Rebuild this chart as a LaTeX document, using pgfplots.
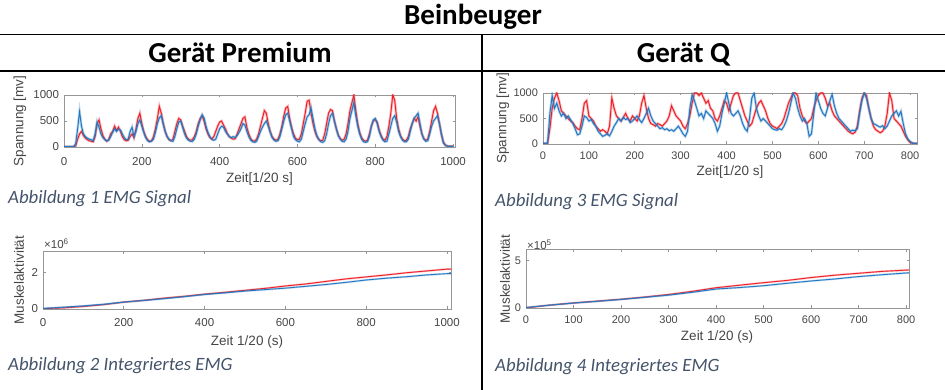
\documentclass[border=0pt]{standalone}
\usepackage{fontspec}
\usepackage{pgfplots}
\pgfplotsset{compat=1.18}
\setmainfont{Carlito}
\newfontfamily\plotfont{Liberation Sans}
\definecolor{axgray}{RGB}{150,150,150}
\definecolor{lblgray}{RGB}{70,70,70}
\definecolor{capblue}{RGB}{68,84,106}
\definecolor{mred}{RGB}{238,32,40}
\definecolor{mblue}{RGB}{35,120,195}
\pgfplotsset{
  mat/.style={scale only axis, anchor=north west,
    axis line style={draw=axgray, line width=0.7pt},
    tick style={draw=axgray, line width=0.6pt},
    tick align=inside, major tick length=2.5pt,
    tick label style={font=\plotfont\fontsize{11.5}{11.5}\selectfont, text=lblgray},
    /pgf/number format/assume math mode=true,
    /pgf/number format/1000 sep={},
    yticklabel style={xshift=-1.5pt},
  },
  sigred/.style={mred, line width=1pt, preaction={draw, mred, opacity=0.3, line width=2.6pt}},
  sigblue/.style={mblue, line width=1pt, preaction={draw, mblue, opacity=0.3, line width=2.6pt}},
  intred/.style={mred, line width=0.9pt, preaction={draw, mred, opacity=0.3, line width=2pt}},
  intblue/.style={mblue, line width=0.9pt, preaction={draw, mblue, opacity=0.3, line width=2pt}},
}
\newcommand{\lblfont}{\plotfont\fontsize{13.5}{13.5}\selectfont}
\newcommand{\hdfont}{\bfseries\fontsize{29}{29}\selectfont}
\newcommand{\capfont}{\itshape\fontsize{18.8}{18.8}\selectfont}
\begin{document}
\begin{tikzpicture}
\path[use as bounding box] (0pt,0pt) rectangle (945pt,-390pt);
% table lines
\draw[black, line width=1.5pt] (0pt,-34.5pt) -- (945pt,-34.5pt);
\draw[black, line width=1.3pt] (0pt,-71pt) -- (945pt,-71pt);
\draw[black, line width=1.8pt] (482pt,-34.5pt) -- (482pt,-390pt);
% headers
\node[anchor=base, font=\hdfont, inner sep=0pt] at (473pt,-25pt) {Beinbeuger};
\node[anchor=base, font=\hdfont, inner sep=0pt] at (240pt,-63pt) {Gerät Premium};
\node[anchor=base, font=\hdfont, inner sep=0pt] at (683.5pt,-63pt) {Gerät Q};
% captions
\node[anchor=base west, font=\capfont, text=capblue, inner sep=0pt] at (8pt,-204pt) {Abbildung 1 EMG Signal};
\node[anchor=base west, font=\capfont, text=capblue, inner sep=0pt] at (8pt,-370pt) {Abbildung 2 Integriertes EMG};
\node[anchor=base west, font=\capfont, text=capblue, inner sep=0pt] at (495pt,-206.5pt) {Abbildung 3 EMG Signal};
\node[anchor=base west, font=\capfont, text=capblue, inner sep=0pt] at (495pt,-371.5pt) {Abbildung 4 Integriertes EMG};
% axis labels
\node[rotate=90, font=\lblfont, text=lblgray, inner sep=0pt] at (20pt,-121pt) {Spannung [mv]};
\node[font=\lblfont, text=lblgray, inner sep=0pt] at (259.5pt,-179pt) {Zeit[1/20 s]};
\node[rotate=90, font=\lblfont, text=lblgray, inner sep=0pt] at (19pt,-280pt) {Muskelaktivität};
\node[font=\lblfont, text=lblgray, inner sep=0pt] at (247pt,-342pt) {Zeit 1/20 (s)};
\node[anchor=west, font=\plotfont\fontsize{11.5}{11.5}\selectfont, text=lblgray, inner sep=0pt] at (44pt,-244pt) {×10\textsuperscript{6}};
\node[rotate=90, font=\lblfont, text=lblgray, inner sep=0pt] at (503pt,-118.5pt) {Spannung [mv]};
\node[font=\lblfont, text=lblgray, inner sep=0pt] at (730pt,-172pt) {Zeit[1/20 s]};
\node[rotate=90, font=\lblfont, text=lblgray, inner sep=0pt] at (505pt,-279pt) {Muskelaktivität};
\node[font=\lblfont, text=lblgray, inner sep=0pt] at (717pt,-337pt) {Zeit 1/20 (s)};
\node[anchor=west, font=\plotfont\fontsize{11.5}{11.5}\selectfont, text=lblgray, inner sep=0pt] at (527pt,-245pt) {×10\textsuperscript{5}};
% ---------- Plot 1 ----------
\begin{axis}[mat, at={(64pt,-95pt)}, width=391pt, height=52pt,
  xmin=0, xmax=1005, ymin=0, ymax=1000,
  xtick={0,200,400,600,800,1000}, ytick={0,500,1000},
  xticklabel style={yshift=-6.5pt}]
\addplot[sigred] coordinates {
(0,5)(5,5)(10,5)(15,5)(20,5)(25,5)(30,20)(35,150)(40,250)(45,300)(50,220)(55,170)(60,140)(65,120)(70,110)(75,100)
(80,200)(85,450)(90,520)(95,350)(100,220)(105,150)(110,110)(115,150)(120,250)(125,300)(130,400)(135,320)(140,380)(145,300)
(150,200)(155,140)(160,120)(165,130)(170,200)(175,250)(180,180)(185,350)(190,550)(195,650)(200,450)(205,300)(210,200)(215,140)
(220,110)(225,120)(230,200)(235,350)(240,550)(245,780)(250,650)(255,450)(260,300)(265,200)(270,140)(275,120)(280,150)(285,300)
(290,450)(295,550)(300,520)(305,400)(310,300)(315,200)(320,150)(325,130)(330,140)(335,200)(340,300)(345,450)(350,550)(355,600)
(360,500)(365,350)(370,250)(375,180)(380,150)(385,200)(390,300)(395,400)(400,480)(405,500)(410,420)(415,350)(420,250)(425,200)
(430,170)(435,150)(440,160)(445,250)(450,350)(455,450)(460,550)(465,580)(470,380)(475,250)(480,160)(485,120)(490,110)(495,150)
(500,250)(505,400)(510,550)(515,700)(520,650)(525,450)(530,300)(535,200)(540,150)(545,130)(550,150)(555,250)(560,400)(565,600)
(570,750)(575,780)(580,550)(585,380)(590,250)(595,170)(600,140)(605,150)(610,250)(615,450)(620,650)(625,880)(630,900)(635,650)
(640,450)(645,300)(650,200)(655,140)(660,120)(665,130)(670,250)(675,450)(680,650)(685,720)(690,700)(695,500)(700,350)(705,230)
(710,160)(715,130)(720,150)(725,250)(730,450)(735,700)(740,850)(745,1000)(750,700)(755,450)(760,280)(765,180)(770,130)(775,110)
(780,130)(785,250)(790,400)(795,500)(800,530)(805,480)(810,330)(815,220)(820,150)(825,130)(830,200)(835,400)(840,650)(845,1000)
(850,900)(855,550)(860,350)(865,220)(870,150)(875,120)(880,130)(885,200)(890,350)(895,450)(900,550)(905,500)(910,580)(915,400)
(920,250)(925,160)(930,130)(935,150)(940,300)(945,500)(950,700)(955,780)(960,650)(965,450)(970,250)(975,100)(980,40)(985,20)
(990,15)(995,15)(1000,15)};
\addplot[sigblue] coordinates {
(0,5)(5,5)(10,5)(15,5)(20,5)(25,10)(30,60)(35,350)(40,680)(45,400)(50,250)(55,200)(60,170)(65,150)(70,140)(75,120)
(80,250)(85,480)(90,380)(95,250)(100,180)(105,140)(110,120)(115,130)(120,200)(125,280)(130,350)(135,300)(140,340)(145,330)
(150,250)(155,180)(160,140)(165,150)(170,300)(175,380)(180,200)(185,300)(190,450)(195,520)(200,400)(205,280)(210,180)(215,120)
(220,100)(225,110)(230,150)(235,280)(240,450)(245,560)(250,600)(255,450)(260,300)(265,200)(270,150)(275,120)(280,110)(285,200)
(290,350)(295,480)(300,500)(305,380)(310,250)(315,170)(320,130)(325,110)(330,110)(335,150)(340,250)(345,400)(350,520)(355,620)
(360,560)(365,400)(370,280)(375,200)(380,150)(385,130)(390,150)(395,250)(400,350)(405,400)(410,380)(415,300)(420,250)(425,200)
(430,180)(435,200)(440,180)(445,220)(450,280)(455,350)(460,450)(465,420)(470,300)(475,200)(480,130)(485,100)(490,90)(495,110)
(500,200)(505,300)(510,380)(515,450)(520,500)(525,400)(530,280)(535,180)(540,130)(545,110)(550,120)(555,200)(560,350)(565,500)
(570,620)(575,650)(580,500)(585,350)(590,200)(595,140)(600,110)(605,100)(610,150)(615,300)(620,450)(625,580)(630,620)(635,750)
(640,550)(645,350)(650,220)(655,150)(660,100)(665,90)(670,120)(675,250)(680,450)(685,600)(690,650)(695,500)(700,350)(705,220)
(710,150)(715,110)(720,100)(725,150)(730,300)(735,550)(740,700)(745,850)(750,600)(755,400)(760,250)(765,150)(770,100)(775,90)
(780,100)(785,200)(790,400)(795,520)(800,550)(805,450)(810,300)(815,200)(820,130)(825,100)(830,110)(835,250)(840,400)(845,550)
(850,600)(855,480)(860,300)(865,200)(870,130)(875,100)(880,100)(885,150)(890,300)(895,450)(900,550)(905,600)(910,650)(915,450)
(920,250)(925,150)(930,110)(935,120)(940,250)(945,400)(950,500)(955,550)(960,600)(965,450)(970,250)(975,80)(980,30)(985,15)
(990,10)(995,10)(1000,10)};
\end{axis}
% ---------- Plot 2 ----------
\begin{axis}[mat, at={(43pt,-251pt)}, width=408pt, height=58pt,
  xmin=0, xmax=1010, ymin=0, ymax=3.2,
  xtick={0,200,400,600,800,1000}, ytick={0,2},
  xticklabel style={yshift=-5.5pt}]
\addplot[intred] coordinates {
(0,0.02)(50,0.06)(100,0.14)(150,0.24)(200,0.38)(250,0.48)(300,0.6)(350,0.7)(400,0.82)(450,0.92)(500,1.03)
(550,1.14)(600,1.27)(650,1.38)(700,1.52)(750,1.66)(800,1.77)(850,1.88)(900,2.0)(950,2.1)(1000,2.2)(1010,2.2)};
\addplot[intblue] coordinates {
(0,0.03)(50,0.1)(100,0.17)(150,0.26)(200,0.38)(250,0.47)(300,0.57)(350,0.68)(400,0.8)(450,0.89)(500,0.99)
(550,1.07)(600,1.15)(650,1.25)(700,1.35)(750,1.47)(800,1.6)(850,1.7)(900,1.78)(950,1.88)(1000,1.95)(1010,1.95)};
\end{axis}
% ---------- Plot 3 ----------
\begin{axis}[mat, at={(543pt,-93pt)}, width=374pt, height=51pt,
  xmin=0, xmax=815, ymin=0, ymax=1000,
  xtick={0,100,...,800}, ytick={0,500,1000},
  tick label style={font=\plotfont\fontsize{11}{11}\selectfont},
  xticklabel style={yshift=-4pt}]
\addplot[sigred] coordinates {
(0,10)(5,10)(10,15)(15,300)(20,700)(25,900)(30,1000)(35,850)(40,650)(45,600)(50,550)(55,500)(60,450)(65,420)(70,350)(75,300)
(80,280)(85,500)(90,800)(95,850)(100,550)(105,500)(110,450)(115,350)(120,300)(125,250)(130,280)(135,250)(140,200)(145,350)
(150,900)(155,700)(160,550)(165,500)(170,450)(175,520)(180,600)(185,500)(190,450)(195,550)(200,500)(205,450)(210,550)(215,800)
(220,950)(225,700)(230,500)(235,400)(240,380)(245,350)(250,400)(255,380)(260,350)(265,400)(270,450)(275,550)(280,750)(285,650)
(290,550)(295,500)(300,450)(305,350)(310,300)(315,400)(320,550)(325,800)(330,1000)(335,1000)(340,950)(345,1000)(350,900)(355,800)
(360,850)(365,700)(370,650)(375,500)(380,450)(385,550)(390,700)(395,850)(400,800)(405,650)(410,800)(415,950)(420,1000)(425,1000)
(430,850)(435,700)(440,550)(445,450)(450,350)(455,400)(460,550)(465,700)(470,800)(475,850)(480,750)(485,650)(490,500)(495,400)
(500,350)(505,330)(510,300)(515,350)(520,400)(525,500)(530,650)(535,800)(540,900)(545,1000)(550,1000)(555,950)(560,700)(565,550)
(570,450)(575,400)(580,450)(585,500)(590,700)(595,850)(600,950)(605,1000)(610,1000)(615,900)(620,750)(625,800)(630,650)(635,550)
(640,500)(645,450)(650,400)(655,350)(660,300)(665,250)(670,220)(675,200)(680,230)(685,350)(690,650)(695,900)(700,1000)(705,950)
(710,700)(715,500)(720,350)(725,280)(730,250)(735,220)(740,250)(745,350)(750,600)(755,1000)(760,850)(765,500)(770,450)(775,400)
(780,350)(785,250)(790,150)(795,80)(800,30)(805,15)(810,10)(815,10)};
\addplot[sigblue] coordinates {
(0,10)(5,10)(10,20)(15,600)(20,950)(25,700)(30,800)(35,650)(40,550)(45,600)(50,500)(55,550)(60,480)(65,400)(70,300)(75,180)
(80,200)(85,350)(90,550)(95,520)(100,450)(105,480)(110,400)(115,350)(120,250)(125,200)(130,150)(135,170)(140,200)(145,160)
(150,250)(155,350)(160,420)(165,500)(170,450)(175,520)(180,480)(185,500)(190,420)(195,450)(200,500)(205,550)(210,480)(215,420)
(220,500)(225,600)(230,700)(235,550)(240,450)(245,400)(250,350)(255,300)(260,320)(265,280)(270,300)(275,260)(280,280)(285,250)
(290,300)(295,350)(300,280)(305,200)(310,150)(315,250)(320,700)(325,970)(330,850)(335,700)(340,550)(345,600)(350,500)(355,650)
(360,600)(365,550)(370,500)(375,400)(380,250)(385,350)(390,600)(395,800)(400,1000)(405,800)(410,600)(415,550)(420,600)(425,650)
(430,550)(435,400)(440,300)(445,250)(450,500)(455,900)(460,1000)(465,700)(470,550)(475,450)(480,500)(485,450)(490,400)(495,350)
(500,300)(505,280)(510,270)(515,300)(520,280)(525,350)(530,450)(535,600)(540,800)(545,1000)(550,900)(555,700)(560,550)(565,450)
(570,500)(575,400)(580,150)(585,200)(590,600)(595,1000)(600,850)(605,700)(610,600)(615,550)(620,700)(625,850)(630,970)(635,750)
(640,600)(645,500)(650,450)(655,400)(660,350)(665,300)(670,250)(675,270)(680,260)(685,300)(690,600)(695,850)(700,1000)(705,900)
(710,700)(715,500)(720,400)(725,380)(730,350)(735,330)(740,360)(745,300)(750,350)(755,450)(760,550)(765,600)(770,650)(775,550)
(780,640)(785,400)(790,200)(795,100)(800,50)(805,20)(810,10)(815,10)};
\end{axis}
% ---------- Plot 4 ----------
\begin{axis}[mat, at={(526pt,-249pt)}, width=383pt, height=59pt,
  xmin=0, xmax=806, ymin=0, ymax=6.2,
  xtick={0,100,...,800}, ytick={0,5},
  tick label style={font=\plotfont\fontsize{11}{11}\selectfont},
  xticklabel style={yshift=-4.5pt}]
\addplot[intred] coordinates {
(0,0.02)(50,0.3)(100,0.53)(150,0.72)(200,0.92)(250,1.15)(300,1.42)(350,1.75)(400,2.13)(450,2.4)(500,2.66)
(550,2.9)(600,3.2)(650,3.45)(700,3.65)(750,3.85)(800,3.98)(806,4.0)};
\addplot[intblue] coordinates {
(0,0.05)(50,0.3)(100,0.52)(150,0.7)(200,0.9)(250,1.12)(300,1.35)(350,1.65)(400,1.99)(450,2.15)(500,2.34)
(550,2.6)(600,2.84)(650,3.05)(700,3.3)(750,3.5)(800,3.68)(806,3.7)};
\end{axis}
\end{tikzpicture}
\end{document}
